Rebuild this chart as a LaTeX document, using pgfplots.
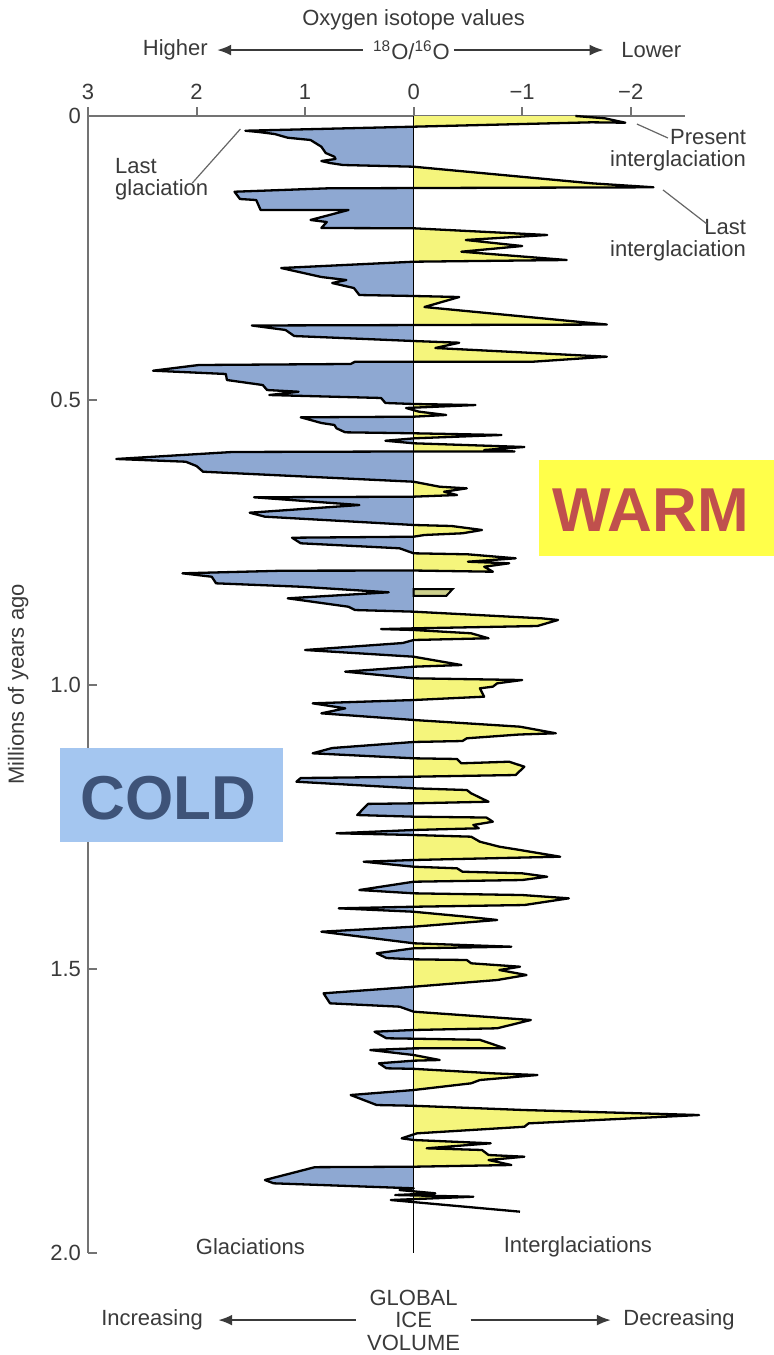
\documentclass[border=0pt]{standalone}
\usepackage{fontspec}
\setmainfont{Liberation Sans}
\usepackage{pgfplots}
\pgfplotsset{compat=1.18}
\usepackage{pgfplotstable}
\usetikzlibrary{arrows.meta}

\definecolor{iceblue}{HTML}{8EA8D2}
\definecolor{warmyellow}{HTML}{F5F57C}
\definecolor{dullyellow}{HTML}{CDD08C}
\definecolor{coldbox}{HTML}{A4C6F0}
\definecolor{coldtext}{HTML}{3E5378}
\definecolor{warmbox}{HTML}{FFFF4A}
\definecolor{warmtext}{HTML}{C0504D}
\definecolor{labelgray}{HTML}{3A3A3A}

% oxygen-isotope anomaly (x) against age in millions of years (y)
\pgfplotstableread{
x y
-1.49 0.0000
-1.76 0.0040
-1.95 0.0118
-1.64 0.0111
0.00 0.0188
1.55 0.0259
1.43 0.0281
1.28 0.0317
1.16 0.0382
0.95 0.0422
0.85 0.0540
0.81 0.0651
0.73 0.0716
0.72 0.0756
0.85 0.0792
0.77 0.0827
0.65 0.0862
0.00 0.0892
-1.64 0.1184
-2.21 0.1254
0.79 0.1272
1.65 0.1332
1.60 0.1460
1.45 0.1478
1.41 0.1653
0.60 0.1653
0.95 0.1829
0.80 0.1865
0.85 0.1970
0.00 0.1975
-1.23 0.2093
-0.48 0.2181
-1.00 0.2287
-0.44 0.2387
-1.41 0.2533
0.00 0.2563
1.22 0.2674
0.85 0.2832
0.62 0.2885
0.75 0.2938
0.55 0.3026
0.50 0.3149
0.00 0.3166
-0.42 0.3184
-0.10 0.3360
-1.78 0.3668
1.49 0.3685
1.18 0.3764
1.10 0.3870
0.00 0.3958
-0.42 0.3988
-0.20 0.4081
-1.78 0.4234
-1.10 0.4322
0.54 0.4322
0.58 0.4362
1.98 0.4380
2.40 0.4480
1.73 0.4538
1.72 0.4644
1.39 0.4732
1.35 0.4820
1.06 0.4850
1.33 0.4908
0.30 0.4960
0.26 0.5048
0.00 0.5066
-0.57 0.5084
0.07 0.5136
-0.05 0.5201
-0.30 0.5259
0.00 0.5289
1.04 0.5300
0.95 0.5347
0.85 0.5400
0.73 0.5435
0.71 0.5494
0.63 0.5564
0.00 0.5581
-0.81 0.5611
-0.01 0.5669
0.26 0.5712
0.00 0.5757
-1.02 0.5822
-0.65 0.5875
-0.93 0.5901
0.00 0.5901
1.67 0.5910
2.74 0.6033
2.10 0.6081
2.00 0.6157
1.94 0.6257
0.00 0.6433
-0.24 0.6521
-0.49 0.6549
-0.28 0.6609
-0.40 0.6667
0.00 0.6696
1.47 0.6707
0.50 0.6843
1.51 0.6978
1.37 0.7048
0.00 0.7194
-0.35 0.7212
-0.63 0.7282
-0.45 0.7340
-0.10 0.7370
0.00 0.7400
1.12 0.7418
1.04 0.7516
0.13 0.7604
0.00 0.7692
-0.50 0.7710
-0.94 0.7780
-0.50 0.7840
-0.88 0.7868
-0.65 0.7928
-0.73 0.8016
0.00 0.7995
1.20 0.7998
2.13 0.8044
1.86 0.8104
1.82 0.8220
1.04 0.8280
0.23 0.8378
1.16 0.8484
0.60 0.8632
0.54 0.8690
0.00 0.8719
-1.18 0.8836
-1.33 0.8865
-1.14 0.8971
-0.03 0.9011
0.30 0.9025
0.00 0.9041
-0.53 0.9099
-0.69 0.9187
0.00 0.9217
0.10 0.9270
1.00 0.9393
0.00 0.9511
-0.44 0.9657
0.00 0.9687
0.63 0.9774
0.00 0.9891
-1.00 0.9921
-0.77 0.9979
-0.73 1.0038
-0.61 1.0067
-0.65 1.0214
0.00 1.0273
0.93 1.0331
0.63 1.0419
0.85 1.0507
0.00 1.0624
-0.98 1.0742
-1.31 1.0858
-0.97 1.0880
-0.49 1.0946
-0.45 1.0994
0.00 1.1011
0.75 1.1117
0.93 1.1210
0.00 1.1298
-0.40 1.1310
-0.44 1.1386
-0.88 1.1358
-1.02 1.1446
-0.94 1.1592
0.00 1.1622
1.04 1.1645
1.08 1.1710
0.00 1.1826
-0.49 1.1856
-0.53 1.1914
-0.69 1.2062
0.00 1.2090
0.42 1.2100
0.52 1.2296
0.00 1.2325
-0.67 1.2340
-0.73 1.2413
-0.55 1.2471
-0.60 1.2529
0.00 1.2559
0.71 1.2617
0.00 1.2647
-0.53 1.2677
-0.61 1.2765
-0.79 1.2853
-0.98 1.2911
-1.35 1.3029
0.00 1.3087
0.46 1.3117
0.00 1.3205
-0.40 1.3233
-0.45 1.3293
-1.00 1.3321
-1.23 1.3381
-1.00 1.3439
0.00 1.3469
0.50 1.3615
0.00 1.3673
-1.00 1.3703
-1.43 1.3761
-1.02 1.3879
0.00 1.3909
0.69 1.3937
0.00 1.3997
-0.49 1.4085
-0.77 1.4142
-0.20 1.4230
0.00 1.4260
0.85 1.4348
0.00 1.4552
-0.90 1.4612
0.00 1.4640
0.34 1.4728
0.25 1.4811
0.00 1.4834
-0.49 1.4846
-0.53 1.4904
-0.98 1.4964
-0.79 1.5022
-1.04 1.5110
-0.77 1.5198
0.00 1.5316
0.83 1.5432
0.77 1.5608
0.13 1.5667
0.00 1.5755
-0.86 1.5871
-1.08 1.5901
-0.77 1.6047
0.00 1.6077
0.36 1.6107
0.25 1.6223
0.00 1.6230
-0.61 1.6250
-0.84 1.6399
0.00 1.6400
0.40 1.6429
0.00 1.6517
-0.24 1.6605
0.00 1.6617
0.32 1.6663
0.25 1.6751
0.00 1.6760
-0.73 1.6839
-1.14 1.6869
-0.61 1.6957
-0.53 1.7015
0.00 1.7133
0.58 1.7221
0.34 1.7397
0.00 1.7410
-1.02 1.7485
-2.63 1.7573
-1.06 1.7719
-1.02 1.7779
-0.03 1.7895
0.11 1.7983
0.00 1.8012
-0.71 1.8070
-0.12 1.8158
-0.63 1.8188
-0.69 1.8276
-1.02 1.8306
-0.69 1.8364
-0.90 1.8452
0.00 1.8482
0.91 1.8490
1.37 1.8716
1.29 1.8774
0.00 1.8862
0.13 1.8892
-0.20 1.8950
0.17 1.8980
-0.55 1.9010
0.21 1.9068
-0.98 1.9273
}\isotope

% small detached interglacial sliver near 0.84 Myr
\pgfplotstableread{
x y
0.00 0.8320
-0.36 0.8320
-0.30 0.8443
0.00 0.8443
}\sliver

\begin{document}
\begin{tikzpicture}
\begin{axis}[
  at={(0pt,0pt)}, anchor=south west,
  scale only axis, width=298.5pt, height=568.5pt,
  xmin=-2.5, xmax=3, x dir=reverse,
  ymin=0, ymax=2, y dir=reverse,
  clip=false,
  axis x line*=top, axis y line*=left,
  axis line style={draw=black!55, line width=1pt},
  xtick={3,2,1,0,-1,-2}, xticklabels={3,2,1,0,−1,−2},
  ytick={0,0.5,1,1.5,2}, yticklabels={0,0.5,1.0,1.5,2.0},
  xtick align=outside, ytick align=inside,
  major tick length=4.5pt,
  every tick/.style={draw=black!55, line width=1pt},
  tick label style={font=\fontsize{11}{13}\selectfont, text=labelgray},
  fillpart/.style={draw=none, y filter/.expression={y>1.92 ? nan : y}},
]
% ice-volume fills on either side of the zero line
\begin{scope}
  \clip (axis cs:0,-0.05) rectangle (axis cs:3,2);
  \addplot[fill=iceblue, fillpart] table[x=x,y=y]{\isotope}
    -- (axis cs:0,1.9068) -- (axis cs:0,0) -- cycle;
\end{scope}
\begin{scope}
  \clip (axis cs:0,-0.05) rectangle (axis cs:-2.8,2);
  \addplot[fill=warmyellow, fillpart] table[x=x,y=y]{\isotope}
    -- (axis cs:0,1.9068) -- (axis cs:0,0) -- cycle;
\end{scope}
\addplot[fill=dullyellow, draw=black, line width=1pt] table[x=x,y=y]{\sliver} -- cycle;
\draw[black, line width=0.7pt] (axis cs:0,0) -- (axis cs:0,2);
\addplot[black, line width=1.15pt, line join=round, mark=none] table[x=x,y=y]{\isotope};

% header
\node[font=\fontsize{11}{13}\selectfont, text=labelgray] at (axis cs:0,-0.169) {Oxygen isotope values};
\node[font=\fontsize{11}{13}\selectfont, text=labelgray] at (axis cs:2.195,-0.116) {Higher};
\node[font=\fontsize{11}{13}\selectfont, text=labelgray] at (axis cs:0.02,-0.116) {\textsuperscript{18}O/\textsuperscript{16}O};
\node[font=\fontsize{11}{13}\selectfont, text=labelgray] at (axis cs:-2.19,-0.116) {Lower};
\draw[-{Latex[length=7pt,width=5.5pt]}, line width=1pt, labelgray] (axis cs:0.47,-0.116) -- (axis cs:1.81,-0.116);
\draw[-{Latex[length=7pt,width=5.5pt]}, line width=1pt, labelgray] (axis cs:-0.37,-0.116) -- (axis cs:-1.75,-0.116);

% y label
\node[rotate=90, font=\fontsize{11}{13}\selectfont, text=labelgray] at (axis cs:3.644,1.0) {Millions of years ago};

% annotations
\node[anchor=west, align=left, font=\fontsize{11}{11}\selectfont, text=labelgray] at (axis cs:2.814,0.1108) {Last\\glaciation};
\draw[black!60, line width=0.6pt] (axis cs:2.039,0.1179) -- (axis cs:1.596,0.0229);
\node[anchor=east, align=right, font=\fontsize{11}{11}\selectfont, text=labelgray] at (axis cs:-3.127,0.0598) {Present\\interglaciation};
\draw[black!60, line width=0.6pt] (axis cs:-2.057,0.0141) -- (axis cs:-2.343,0.0387);
\node[anchor=east, align=right, font=\fontsize{11}{11}\selectfont, text=labelgray] at (axis cs:-3.127,0.218) {Last\\interglaciation};
\draw[black!60, line width=0.6pt] (axis cs:-2.297,0.130) -- (axis cs:-2.703,0.190);

% bottom captions
\node[font=\fontsize{11}{13}\selectfont, text=labelgray] at (axis cs:1.504,1.9894) {Glaciations};
\node[font=\fontsize{11}{13}\selectfont, text=labelgray] at (axis cs:-1.513,1.9894) {Interglaciations};
\node[align=center, font=\fontsize{11}{11.2}\selectfont, text=labelgray] at (axis cs:0,2.118) {GLOBAL\\ICE\\VOLUME};
\node[font=\fontsize{11}{13}\selectfont, text=labelgray] at (axis cs:2.41,2.118) {Increasing};
\node[font=\fontsize{11}{13}\selectfont, text=labelgray] at (axis cs:-2.445,2.118) {Decreasing};
\draw[-{Latex[length=7pt,width=5.5pt]}, line width=1pt, labelgray] (axis cs:0.535,2.118) -- (axis cs:1.80,2.118);
\draw[-{Latex[length=7pt,width=5.5pt]}, line width=1pt, labelgray] (axis cs:-0.526,2.118) -- (axis cs:-1.817,2.118);

% COLD / WARM boxes
\fill[coldbox] (axis cs:3.257,1.1117) rectangle (axis cs:1.208,1.277);
\node[text=coldtext, font=\bfseries\fontsize{31}{31}\selectfont] at (axis cs:2.26,1.2) {COLD};
\fill[warmbox] (axis cs:-1.153,0.605) rectangle (axis cs:-3.34,0.774);
\node[text=warmtext, font=\bfseries\fontsize{31}{31}\selectfont] at (axis cs:-2.186,0.693) {WARM};
\end{axis}
\pgfresetboundingbox
\path (-44pt,-51pt) rectangle (343pt,626.5pt);
\end{tikzpicture}
\end{document}
